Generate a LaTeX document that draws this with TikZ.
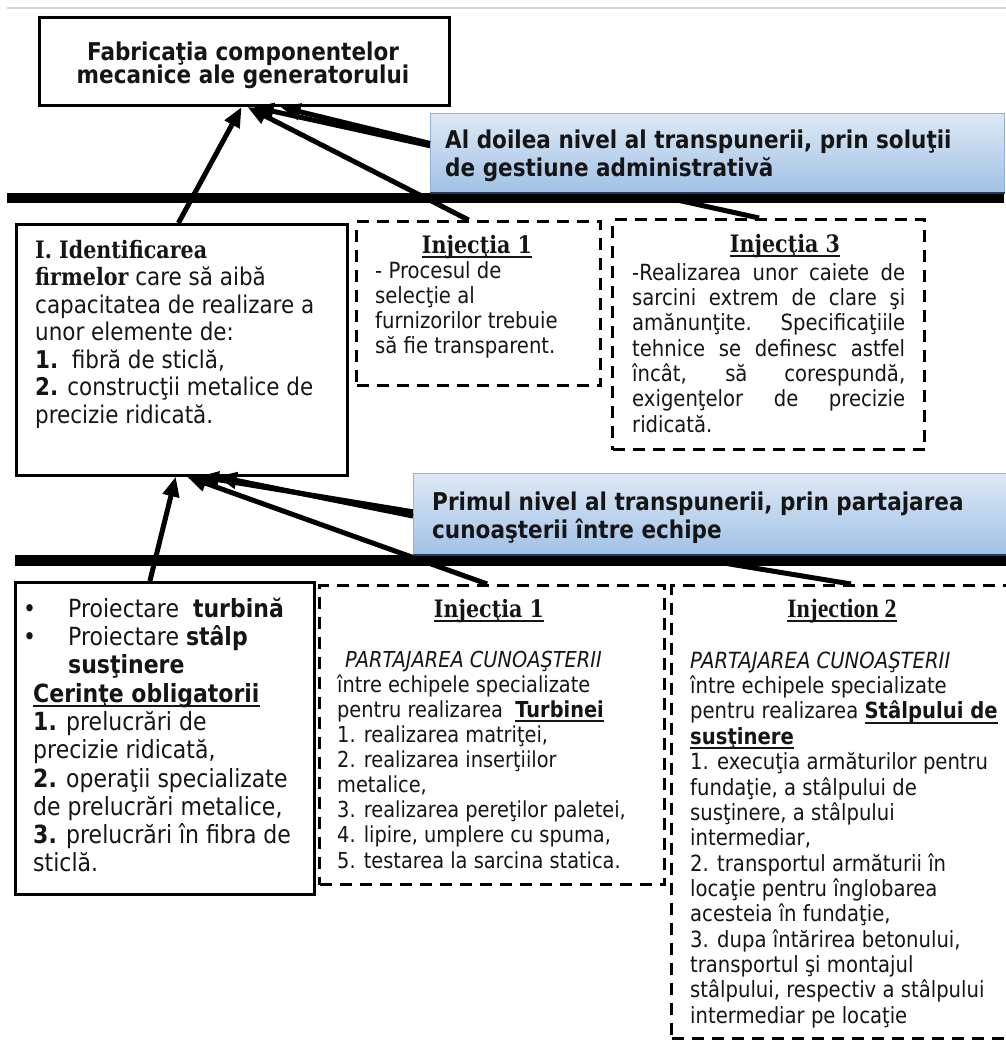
\documentclass[tikz,border=0pt]{standalone}
\usepackage{fontspec}
\setmainfont{DejaVu Sans}[FakeStretch=0.88]
\newfontfamily\slabfont{DejaVu Serif}[FakeStretch=0.86]
\newfontfamily\romanfont{Liberation Serif}[FakeStretch=0.9]
\usetikzlibrary{arrows.meta,calc}

\definecolor{ink}{HTML}{151515}
\definecolor{skytop}{HTML}{DEE9F5}
\definecolor{skybot}{HTML}{A0C1E6}
\definecolor{skyedge}{HTML}{8DB3E2}
\definecolor{navy}{HTML}{1F3A5F}
\definecolor{hairline}{HTML}{D4D4D4}

% font size with a fixed line pitch
\newcommand{\fs}[2]{\fontsize{#1}{#2}\selectfont\lineskiplimit=-100pt\relax}
% fixed height of the first line of every text block
\newcommand{\fst}{\rule{0pt}{20pt}}
\newcommand{\slabb}{\slabfont\bfseries\fontsize{24}{27}\selectfont}
% underline drawn at a fixed distance below the baseline
\newsavebox{\ulbox}
\newcommand{\ul}[1]{\sbox{\ulbox}{#1}\rlap{\rule[-4.6pt]{\wd\ulbox}{1.8pt}}\usebox{\ulbox}}

\begin{document}
\begin{tikzpicture}[x=1pt,y=-1pt,
  solidbox/.style={draw=black, line width=3pt, inner sep=0pt, anchor=north west},
  dashbox/.style={draw=black, line width=3pt, dash pattern=on 12pt off 8pt, inner sep=0pt, anchor=north west},
  banner/.style={top color=skytop, bottom color=skybot, draw=skyedge, line width=1pt, inner sep=0pt, anchor=north west},
  bar/.style={fill=black},
  link/.style={line width=5pt, -{Triangle[length=20pt,width=16pt]}},
  txt/.style={inner sep=0pt, anchor=north west, align=left, text=ink},
  ctxt/.style={inner sep=0pt, anchor=north, align=center, text=ink},
]
\useasboundingbox (0,0) rectangle (1006,1041);
\clip (0,0) rectangle (1006,1041);

% thin rule along the top
\draw[hairline, line width=1.5pt] (7,8) -- (1006,8);

% frames
\node[solidbox, minimum width=410pt, minimum height=88pt] (fab) at (38,16) {};
\node[solidbox, line width=2.5pt, minimum width=331pt, minimum height=251pt] (ident) at (15,223) {};
\node[solidbox, minimum width=299pt, minimum height=312pt] (design) at (14,581) {};
\node[dashbox, minimum width=244pt, minimum height=164pt] (injA) at (355,220) {};
\node[dashbox, minimum width=312pt, minimum height=230pt] (injC) at (611,218) {};
\node[dashbox, minimum width=345pt, minimum height=299pt] (injB) at (318,584) {};
\node[dashbox, minimum width=345pt, minimum height=453pt] (injD) at (670,584) {};

% arrows of the upper level
\draw[link] ($(ident.north west)!0.49!(ident.north east)$) -- ($(fab.south west)!0.493!(fab.south east)$);
\draw[link] ($(injA.north west)!0.46!(injA.north east)$) -- ($(fab.south west)!0.507!(fab.south east)$);
\draw[link] ($(injC.north west)!0.47!(injC.north east)$) -- ($(fab.south west)!0.522!(fab.south east)$);

% arrows of the lower level
\draw[link] ($(design.north west)!0.45!(design.north east)$) -- ($(ident.south west)!0.482!(ident.south east)$);
\draw[link] ($(injB.north west)!0.486!(injB.north east)$) -- ($(ident.south west)!0.515!(ident.south east)$);
\draw[link] ($(injD.north west)!0.52!(injD.north east)$) -- ($(ident.south west)!0.551!(ident.south east)$);

% level bars
\fill[bar] (7,193) rectangle (1004,203);
\fill[bar] (15,555) rectangle (1006,566);

% level banners
\node[banner, minimum width=574pt, minimum height=79pt] (lvlTwo) at (430,113) {};
\node[banner, minimum width=593pt, minimum height=81pt] (lvlOne) at (413,473) {};
\draw[navy, line width=2pt] (lvlTwo.south west) -- (lvlTwo.south east);
\draw[navy, line width=2pt] (lvlOne.south west) -- (lvlOne.south east);
\draw[link] ($(lvlTwo.north west)!0.38!(lvlTwo.south west)$) -- ($(fab.south west)!0.587!(fab.south east)$);
\draw[link] ($(lvlOne.north west)!0.525!(lvlOne.south west)$) -- ($(ident.south west)!0.605!(ident.south east)$);

% texts
\node[ctxt, font=\fs{24.5}{23}\bfseries] (fabtxt) at (243,40)
  {\fst Fabricaţia componentelor\\mecanice ale generatorului};

\node[txt, font=\fs{24.5}{28}\bfseries] (lvlTwotxt) at (445,128)
  {\fst Al doilea nivel al transpunerii, prin soluţii\\de gestiune administrativă};
\node[txt, font=\fs{24.5}{28}\bfseries] (lvlOnetxt) at (432,490)
  {\fst Primul nivel al transpunerii, prin partajarea\\cunoaşterii între echipe};

\node[txt, font=\fs{24.4}{27.5}] (identtxt) at (35,238)
  {\fst{\slabb I. Identificarea}\\
   {\slabb firmelor} care să aibă\\
   capacitatea de realizare a\\
   unor elemente de:\\
   \textbf{1.}\ \ fibră de sticlă,\\
   \textbf{2.} construcţii metalice de\\
   precizie ridicată.};

\node[ctxt] (injAttl) at (477,233) {\fst\slabb\ul{Injecţia 1}};
\node[txt, font=\fs{22.3}{25}] (injAtxt) at (375,258)
  {\fst - Procesul de\\selecţie al\\furnizorilor trebuie\\să fie transparent.};

\node[ctxt] (injCttl) at (785,232) {\fst\slabb\ul{Injecţia 3}};
\node[txt, font=\fs{22.3}{25.3}] (injCtxt) at (632,260)
  {\fst\makebox[273pt][s]{-Realizarea unor caiete de}\\
   \makebox[273pt][s]{sarcini extrem de clare şi}\\
   \makebox[273pt][s]{amănunţite. \ \ Specificaţiile}\\
   \makebox[273pt][s]{tehnice se definesc astfel}\\
   \makebox[273pt][s]{încât, \ \ să \ \ corespundă,}\\
   \makebox[273pt][s]{exigenţelor \ de \ precizie}\\
   ridicată.};

\node[txt, font=\fs{25}{28.3}] (designtxt) at (33,597)
  {\fst\makebox[0pt][r]{•\hspace{-3pt}}\hspace*{35pt}Proiectare \ \textbf{turbină}\\
   \makebox[0pt][r]{•\hspace{-3pt}}\hspace*{35pt}Proiectare \textbf{stâlp}\\
   \hspace*{35pt}\textbf{susţinere}\\
   \ul{\textbf{Cerinţe obligatorii}}\\
   \textbf{1.} prelucrări de\\
   precizie ridicată,\\
   \textbf{2.} operaţii specializate\\
   de prelucrări metalice,\\
   \textbf{3.} prelucrări în fibra de\\
   sticlă.};

\node[ctxt] (injBttl) at (489,597) {\fst\slabb\ul{Injecţia 1}};
\node[txt, font=\fs{22}{25.1}] (injBtxt) at (337,647)
  {\fst\hspace*{8pt}\textit{PARTAJAREA CUNOAŞTERII}\\
   între echipele specializate\\
   pentru realizarea \ \ul{\textbf{Turbinei}}\\
   1. realizarea matriţei,\\
   2. realizarea inserţiilor\\
   metalice,\\
   3. realizarea pereţilor paletei,\\
   4. lipire, umplere cu spuma,\\
   5. testarea la sarcina statica.};

\node[ctxt, font=\romanfont\bfseries\fontsize{26.5}{28}\selectfont] (injDttl) at (842,597) {\fst\ul{Injection 2}};
\node[txt, font=\fs{22.3}{25.36}] (injDtxt) at (690,648)
  {\fst\textit{PARTAJAREA CUNOAŞTERII}\\
   între echipele specializate\\
   pentru realizarea \ul{\textbf{Stâlpului de}}\\
   \ul{\textbf{susţinere}}\\
   1. execuţia armăturilor pentru\\
   fundaţie, a stâlpului de\\
   susţinere, a stâlpului\\
   intermediar,\\
   2. transportul armăturii în\\
   locaţie pentru înglobarea\\
   acesteia în fundaţie,\\
   3. dupa întărirea betonului,\\
   transportul şi montajul\\
   stâlpului, respectiv a stâlpului\\
   intermediar pe locaţie};
\end{tikzpicture}
\end{document}
